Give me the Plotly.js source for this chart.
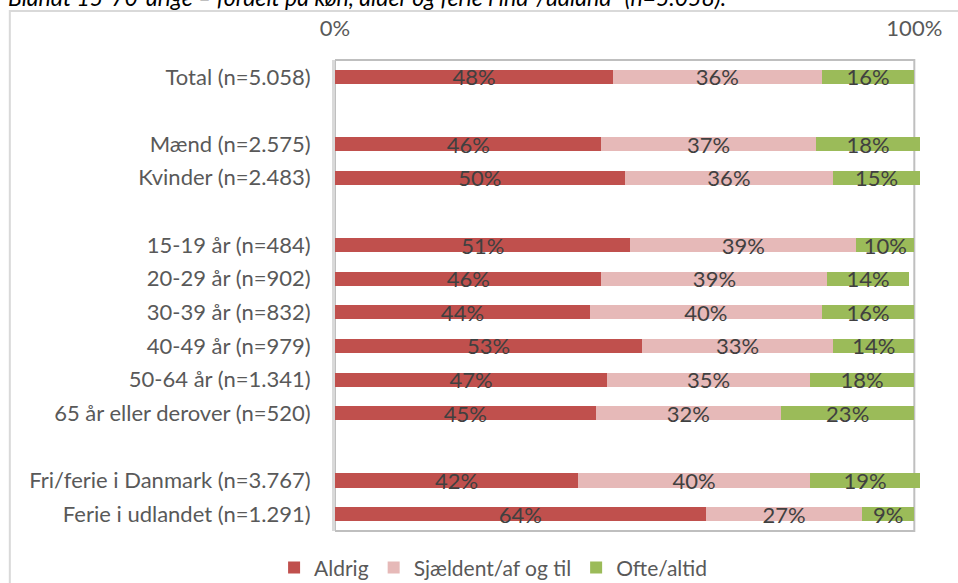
<!DOCTYPE html>
<html>
<head>
<meta charset="utf-8">
<script src="https://cdn.plot.ly/plotly-3.0.1.min.js"></script>
<style>html,body{margin:0;padding:0;background:#fff;}#chart{width:958px;height:583px;}</style>
</head>
<body>
<div id="chart"></div>
<script>
const categories = ['Total (n=5.058)', ' ', 'Mænd (n=2.575)', 'Kvinder (n=2.483)', '  ',
  '15-19 år (n=484)', '20-29 år (n=902)', '30-39 år (n=832)', '40-49 år (n=979)',
  '50-64 år (n=1.341)', '65 år eller derover (n=520)', '   ',
  'Fri/ferie i Danmark (n=3.767)', 'Ferie i udlandet (n=1.291)'];
const seriesNames = ['Aldrig', 'Sjældent/af og til', 'Ofte/altid'];
const aldrig    = [48, null, 46, 50, null, 51, 46, 44, 53, 47, 45, null, 42, 64];
const sjaeldent = [36, null, 37, 36, null, 39, 39, 40, 33, 35, 32, null, 40, 27];
const ofte      = [16, null, 18, 15, null, 10, 14, 16, 14, 18, 23, null, 19, 9];
const xTickVals = [0, 100];
const xTickText = ['0%', '100%'];
const titleText = 'Blandt 15-70-årige – fordelt på køn, alder og ferie i ind-/udland" (n=5.058).';

const colors = ['#C0504D', '#E6B9B8', '#9BBB59'];
const FONT = 'Lato, "Open Sans", sans-serif';
const FS = 22;
const series = [aldrig, sjaeldent, ofte];

// plot area: 0..100 spans 579px starting at x=335; range extended to 101.5 so 101% bars fit
const XMAX = 101.5;
const pxPerUnit = 5.79;
const plotW = XMAX * pxPerUnit;

const traces = series.map((vals, i) => ({
  type: 'bar',
  orientation: 'h',
  name: seriesNames[i],
  y: categories,
  x: vals,
  text: vals.map(v => v == null ? '' : v + '%'),
  textposition: 'inside',
  insidetextanchor: 'middle',
  constraintext: 'none',
  textangle: 0,
  textfont: {family: FONT, size: FS, color: '#404040'},
  marker: {color: colors[i], line: {width: 0}},
  cliponaxis: false,
  hoverinfo: 'skip'
}));

const layout = {
  width: 958, height: 583,
  margin: {l: 335, r: 958 - 335 - plotW, t: 60, b: 52, autoexpand: false},
  paper_bgcolor: '#ffffff', plot_bgcolor: 'rgba(0,0,0,0)',
  barmode: 'stack',
  bargap: 0.58,
  font: {family: FONT, size: FS, color: '#595959'},
  xaxis: {
    side: 'top', range: [0, XMAX], tickvals: xTickVals, ticktext: xTickText,
    showgrid: false, zeroline: false, showline: false, ticks: '',
    ticklabelstandoff: 19, automargin: false,
    tickfont: {family: FONT, size: FS, color: '#595959'}
  },
  yaxis: {
    type: 'category', range: [categories.length - 0.5, -0.5],
    showgrid: false, zeroline: false, showline: true, linecolor: '#d9d9d9', linewidth: 3,
    ticks: '', ticklabelstandoff: 17, automargin: false,
    tickfont: {family: FONT, size: FS, color: '#595959'}
  },
  showlegend: true,
  legend: {
    orientation: 'h', x: 158 / plotW, xanchor: 'center', y: -0.078, yanchor: 'middle',
    font: {family: FONT, size: 21, color: '#595959'}, traceorder: 'normal',
    itemclick: false
  },
  shapes: [
    {type: 'rect', xref: 'x', yref: 'paper', x0: 0, x1: 100, y0: 0, y1: 1,
     line: {color: '#bfbfbf', width: 2}, layer: 'below'},
    {type: 'rect', xref: 'paper', yref: 'paper', x0: -325 / plotW, x1: 1.3, y0: -0.3, y1: 1.104,
     line: {color: '#d9d9d9', width: 2}, layer: 'below'}
  ],
  annotations: [
    {xref: 'paper', yref: 'paper', x: -329 / plotW, xanchor: 'left', y: 1.1, yanchor: 'bottom',
     text: '<i>' + titleText + '</i>', showarrow: false,
     font: {family: FONT, size: 23, color: '#000000'}}
  ]
};

Plotly.newPlot('chart', traces, layout, {displayModeBar: false, staticPlot: true});
</script>
</body>
</html>
